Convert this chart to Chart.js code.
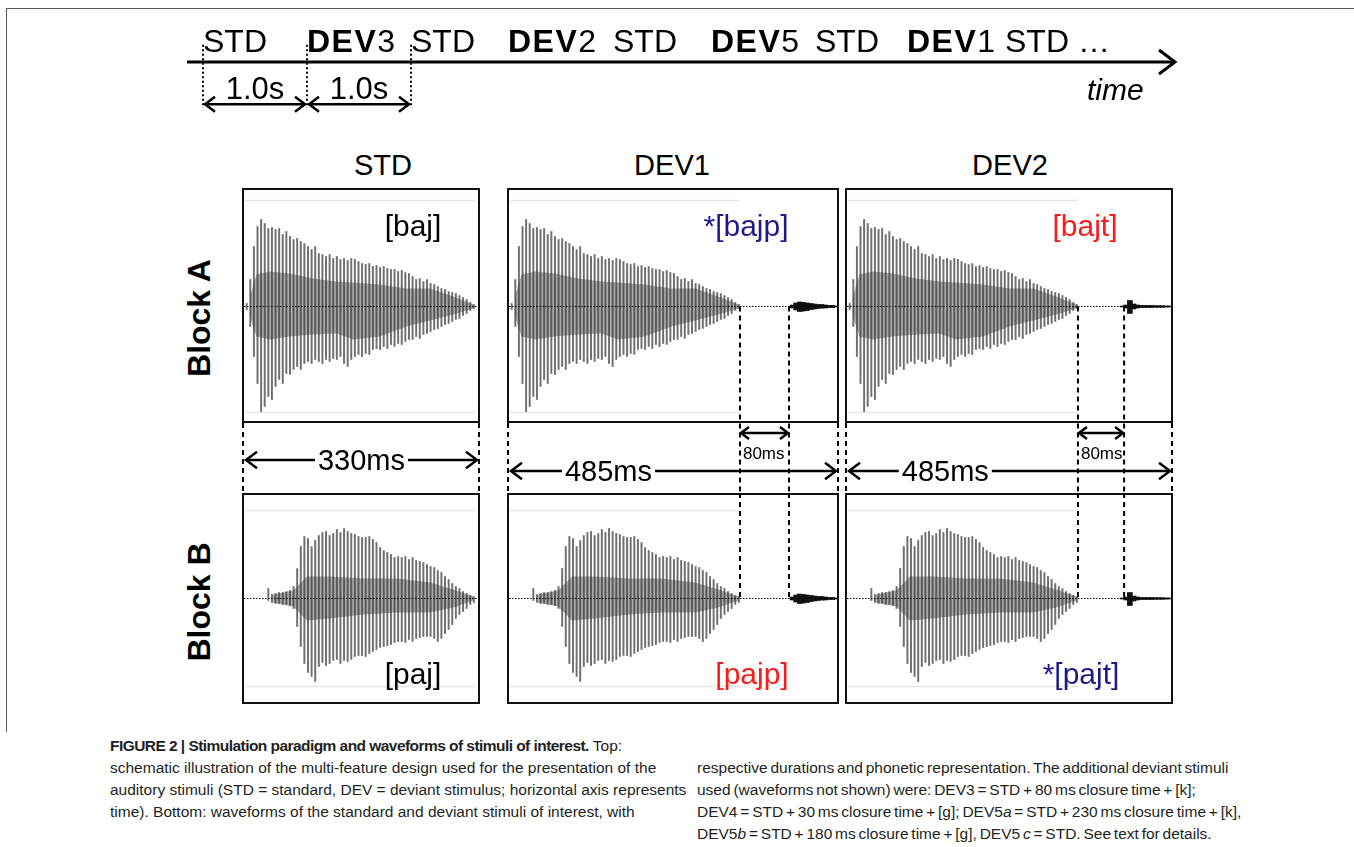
<!DOCTYPE html>
<html lang="en">
<head>
  <meta charset="UTF-8">
  <title>Stimulation paradigm and stimulus waveforms</title>
  <script src="https://cdn.jsdelivr.net/npm/chart.js"></script>
  <style>
    body {
      margin: 0;
      background: #fff;
      font-family: Arial, "Liberation Sans", sans-serif;
      color: #000;
    }
    #page { position: relative; width: 1354px; height: 847px; overflow: hidden; }
    #page canvas { position: absolute; }
    .frame-top { position: absolute; left: 6px; top: 8px; width: 1348px; border-top: 1.5px solid #5a5a5a; }
    .frame-left { position: absolute; left: 6px; top: 8px; height: 724px; border-left: 1.5px solid #5a5a5a; }
    .t { position: absolute; white-space: pre; line-height: 1; }
    .seq b { letter-spacing: 1.5px; }
    .cap { font-family: "Liberation Sans Narrow", "Arial Narrow", Arial, sans-serif; color: #231f20; }
    .cap b { letter-spacing: -0.55px; }
  </style>
</head>
<body>
<div id="page">
  <div class="frame-top"></div>
  <div class="frame-left"></div>
  <canvas id="timeline"></canvas>
  <canvas id="aStd"></canvas><canvas id="aDev1"></canvas><canvas id="aDev2"></canvas>
  <canvas id="bStd"></canvas><canvas id="bDev1"></canvas><canvas id="bDev2"></canvas>
</div>

<script>
  // ---------- data ----------
  const seqLabels = ['STD', 'DEV3', 'STD', 'DEV2', 'STD', 'DEV5', 'STD', 'DEV1', 'STD', '…'];
  const soaOnsets = [0, 1, 2];                 // s, onsets marked with dotted lines
  const soaLabel = '1.0s';
  const columnTitles = ['STD', 'DEV1', 'DEV2'];
  const blockLabels = ['Block A', 'Block B'];
  const phonA = ['[baj]', '*[bajp]', '[bajt]'];
  const phonB = ['[paj]', '[pajp]', '*[pajt]'];
  const durationLabels = ['330ms', '485ms', '485ms'];
  const closureLabel = '80ms';

  const binMs = 5;                             // one bar per 5 ms

  // [baj] waveform envelope (amplitude above / below zero)
  const bajStart = 6.5;
  const bajUp = [3, 27, 60, 80, 87, 83, 78, 79, 77, 78, 72, 75, 70, 67, 68, 65, 63, 60, 57, 60,
                 53, 52, 50, 52, 48, 50, 47, 48, 46, 48, 47, 45, 43, 42, 43, 40, 41, 39, 40, 38,
                 37, 37, 35, 36, 34, 33, 30, 27, 28, 25, 27, 23, 22, 20, 18, 17, 15, 14, 13, 11,
                 9, 7, 4, 2];
  const bajLo = [3, 20, 50, 77, 105, 100, 90, 93, 80, 73, 77, 67, 68, 63, 60, 63, 57, 55, 57, 53,
                 55, 57, 53, 55, 52, 53, 50, 57, 60, 53, 50, 48, 50, 47, 48, 43, 42, 43, 40, 42,
                 38, 40, 37, 38, 35, 33, 33, 30, 32, 28, 27, 25, 23, 22, 20, 18, 17, 15, 13, 12,
                 9, 7, 4, 2];
  // dense (dark) core of [baj]
  const bajCoreT  = [11, 20, 39, 66, 99, 131, 154, 191, 228, 261, 293, 321];
  const bajCoreUp = [10, 32, 35, 33, 28, 25, 24, 22, 18, 18, 10, 2];
  const bajCoreLo = [10, 30, 33, 30, 28, 27, 33, 30, 20, 14, 8, 2];

  // [paj] waveform envelope
  const pajStart = 36.5;
  const pajUp = [10, 4, 5, 6, 6, 7, 8, 12, 30, 52, 62, 60, 52, 58, 63, 66, 67, 63, 65, 69,
                 66, 70, 67, 65, 64, 62, 61, 61, 62, 59, 56, 51, 48, 46, 44, 41, 42, 41, 42, 39,
                 41, 38, 37, 36, 34, 32, 31, 28, 26, 22, 19, 15, 12, 10, 7, 5, 3, 2];
  const pajLo = [2, 4, 5, 5, 6, 6, 7, 10, 28, 48, 65, 74, 78, 83, 68, 64, 67, 65, 62, 61,
                 65, 62, 63, 61, 58, 57, 57, 58, 55, 53, 51, 49, 48, 47, 46, 44, 43, 43, 44, 41,
                 43, 40, 39, 38, 38, 38, 40, 43, 40, 35, 31, 26, 20, 16, 13, 10, 6, 4];
  const pajCoreT  = [43, 71, 90, 122, 168, 214, 261, 293, 321];
  const pajCoreUp = [4, 8, 22, 22, 20, 20, 16, 9, 2];
  const pajCoreLo = [4, 8, 22, 20, 16, 14, 14, 9, 2];

  // release bursts after the closure
  const burstPStart = 396;
  const burstPUp = [1.5, 3.5, 4.5, 4, 3.5, 3, 2.5, 2, 2, 1.5, 1, 1, 0.5];
  const burstPLo = [1.5, 3.5, 5, 4.5, 4, 3, 2.5, 2, 1.5, 1.5, 1, 1, 0.5];
  const burstTStart = 385;
  const burstTUp = [0.5, 1.5, 6, 2.5, 1.5, 1, 1, 1, 1, 0.8, 0.8, 0.8, 0.6, 0.5];
  const burstTLo = [0.5, 1.5, 7, 2.5, 1.5, 1, 1, 1, 1, 0.8, 0.8, 0.8, 0.6, 0.5];

  // closure interval (vowel offset, burst onset), ms
  const vowelOffsetMs = [null, 323, 323];
  const burstOnsetMs  = [null, 391, 387];

  // ---------- layout ----------
  const pxPerMs = 238 / 330;
  const cols = [{ left: 242, w: 238 }, { left: 507, w: 332 }, { left: 845, w: 328 }];
  const rowA = { top: 188, h: 235, gap: 70, yMin: -116.5, yMax: 118.5, faint: 106 };
  const rowB = { top: 493, h: 211, gap: 0, yMin: -105.5, yMax: 105.5, faint: 88 };
  const durFrac = [0.5, 0.3, 0.3];
  const phonColA = ['#000', '#1f1a8c', '#ff1a1a'];
  const phonColB = ['#000', '#ff1a1a', '#1f1a8c'];
  const page = document.getElementById('page');

  function addText(html, x, baseline, size, opt = {}) {
    const el = document.createElement('div');
    el.className = 't' + (opt.cls ? ' ' + opt.cls : '');
    el.innerHTML = html;
    el.style.fontSize = size + 'px';
    el.style.left = x + 'px';
    el.style.top = (baseline - 0.8465 * size) + 'px';
    if (opt.bold) el.style.fontWeight = 'bold';
    if (opt.italic) el.style.fontStyle = 'italic';
    if (opt.color) el.style.color = opt.color;
    if (opt.center) el.style.transform = 'translateX(-50%)';
    page.appendChild(el);
    return el;
  }

  function seg(ctx, x1, y1, x2, y2) {
    ctx.beginPath(); ctx.moveTo(x1, y1); ctx.lineTo(x2, y2); ctx.stroke();
  }
  function head(ctx, x, y, dir, s) {
    ctx.beginPath();
    ctx.moveTo(x - dir * s, y - s * 0.75);
    ctx.lineTo(x, y);
    ctx.lineTo(x - dir * s, y + s * 0.75);
    ctx.stroke();
  }
  function dimArrow(ctx, x1, x2, y, label, frac, size) {
    ctx.font = size + 'px Arial';
    const w = ctx.measureText(label).width;
    const cx = x1 + (x2 - x1) * frac;
    ctx.lineWidth = 2.5;
    seg(ctx, x1, y, cx - w / 2 - 3, y);
    seg(ctx, cx + w / 2 + 3, y, x2, y);
    head(ctx, x1, y, -1, 11);
    head(ctx, x2, y, 1, 11);
    ctx.fillText(label, cx - w / 2, y + 0.36 * size);
  }

  // ---------- top schematic ----------
  (function () {
    const cv = document.getElementById('timeline');
    cv.width = 1010; cv.height = 130;
    cv.style.left = '180px'; cv.style.top = '0px';
    const xMin = -0.154, xMax = 9.346;
    const deco = {
      id: 'timelineDeco',
      afterDatasetsDraw(chart) {
        const { ctx, chartArea: a, scales: { x, y } } = chart;
        const y0 = y.getPixelForValue(0);
        ctx.save();
        ctx.strokeStyle = '#000'; ctx.fillStyle = '#000';
        ctx.lineWidth = 3; ctx.lineJoin = 'miter';
        head(ctx, a.right, y0, 1, 16);
        // dotted onset markers
        ctx.lineWidth = 2; ctx.setLineDash([2, 2.5]);
        soaOnsets.forEach(t => {
          const px = x.getPixelForValue(t);
          seg(ctx, px, y.getPixelForValue(0.36), px, y.getPixelForValue(-0.96));
        });
        ctx.setLineDash([]);
        // SOA arrows
        const ya = y.getPixelForValue(-0.88);
        ctx.font = '31px Arial'; ctx.textAlign = 'center';
        for (let i = 1; i < soaOnsets.length; i++) {
          const p1 = x.getPixelForValue(soaOnsets[i - 1]) + 2;
          const p2 = x.getPixelForValue(soaOnsets[i]) - 2;
          ctx.lineWidth = 2.5;
          seg(ctx, p1, ya, p2, ya);
          head(ctx, p1, ya, -1, 10); head(ctx, p2, ya, 1, 10);
          ctx.fillText(soaLabel, (p1 + p2) / 2, y.getPixelForValue(-0.78));
        }
        ctx.restore();
      }
    };
    new Chart(cv, {
      type: 'line',
      data: {
        datasets: [{
          data: [{ x: xMin, y: 0 }, { x: xMax, y: 0 }],
          borderColor: '#000', borderWidth: 3, pointRadius: 0
        }]
      },
      options: {
        responsive: false, animation: false, events: [],
        layout: { padding: { left: 7, right: 15, top: 14, bottom: 20 } },
        scales: {
          x: { type: 'linear', min: xMin, max: xMax, display: false },
          y: { min: -1, max: 1, display: false }
        },
        plugins: { legend: { display: false }, tooltip: { enabled: false } }
      },
      plugins: [deco]
    });
  })();

  // sequence labels (text run as in the original schematic)
  const seqLeft = [203, 307, 411, 508, 613, 711, 815, 907, 1005, 1078];
  seqLabels.forEach((s, i) => {
    const m = s.match(/^DEV(\d)$/);
    const html = m ? '<b>DEV</b>' + m[1] : s;
    addText(html, seqLeft[i], 52, 32, { cls: 'seq' });
  });
  addText('time', 1087, 100, 30, { italic: true });

  // ---------- waveform panels ----------
  function bars(start, up, lo) {
    return up.map((u, i) => ({ x: start + i * binMs, y: [-lo[i], u] }));
  }
  function pts(t, v, sign) {
    return t.map((tt, i) => ({ x: tt, y: sign * v[i] }));
  }

  function panel(id, col, row, wave, burst, c) {
    const cv = document.getElementById(id);
    cv.width = col.w; cv.height = row.h + row.gap;
    cv.style.left = col.left + 'px'; cv.style.top = row.top + 'px';
    const xMax = col.w / pxPerMs;
    const hasClosure = vowelOffsetMs[c] !== null;

    const datasets = [
      { type: 'line', data: pts(wave.coreT, wave.coreUp, 1), fill: '+1',
        backgroundColor: 'rgba(35,35,35,0.38)', borderWidth: 0, pointRadius: 0, order: 3 },
      { type: 'line', data: pts(wave.coreT, wave.coreLo, -1), fill: false,
        borderWidth: 0, pointRadius: 0, order: 3 },
      { type: 'bar', data: bars(wave.start, wave.up, wave.lo), backgroundColor: 'rgba(55,55,55,0.72)',
        barThickness: 1.3, grouped: false, order: 1 }
    ];
    if (burst) {
      datasets.push({ type: 'bar', data: bars(burst.start, burst.up, burst.lo), backgroundColor: '#111',
        barThickness: 5, grouped: false, order: 1 });
    }

    const deco = {
      id: 'panelDeco',
      beforeDatasetsDraw(chart) {
        const { ctx, scales: { x, y } } = chart;
        ctx.save();
        ctx.strokeStyle = '#e6e6e6'; ctx.lineWidth = 1.5;
        [row.faint, -row.faint].forEach(v => {
          seg(ctx, x.getPixelForValue(4), y.getPixelForValue(v), x.getPixelForValue(323), y.getPixelForValue(v));
        });
        ctx.restore();
      },
      afterDatasetsDraw(chart) {
        const { ctx, chartArea: a, scales: { x, y } } = chart;
        const y0 = y.getPixelForValue(0);
        ctx.save();
        ctx.strokeStyle = '#000'; ctx.fillStyle = '#000';
        // zero line
        ctx.lineWidth = 1.2; ctx.setLineDash([1.5, 1.5]);
        seg(ctx, a.left + 2, y0, a.right - 2, y0);
        // box
        ctx.setLineDash([]); ctx.lineWidth = 2; ctx.strokeStyle = '#111';
        ctx.strokeRect(a.left + 1, a.top + 1, a.width - 2, a.height - 2);
        ctx.strokeStyle = '#000';
        ctx.lineWidth = 2; ctx.setLineDash([5, 4]);
        if (row.gap) {
          const ye = chart.height;
          seg(ctx, a.left + 1, a.bottom, a.left + 1, ye);
          seg(ctx, a.right - 1, a.bottom, a.right - 1, ye);
          if (hasClosure) {
            [vowelOffsetMs[c], burstOnsetMs[c]].forEach(ms => {
              const px = x.getPixelForValue(ms);
              seg(ctx, px, y0, px, ye);
            });
          }
          ctx.setLineDash([]);
          dimArrow(ctx, a.left + 4, a.right - 3, a.bottom + (c === 0 ? 37 : 48), durationLabels[c], durFrac[c], 29);
          if (hasClosure) {
            const p1 = x.getPixelForValue(vowelOffsetMs[c]) + 1;
            const p2 = x.getPixelForValue(burstOnsetMs[c]) - 1;
            const ya = a.bottom + 10;
            ctx.lineWidth = 2.5;
            seg(ctx, p1, ya, p2, ya);
            head(ctx, p1, ya, -1, 8); head(ctx, p2, ya, 1, 8);
            ctx.font = '17px Arial';
            ctx.fillText(closureLabel, p1 + 2, a.bottom + 36);
          }
        } else if (hasClosure) {
          [vowelOffsetMs[c], burstOnsetMs[c]].forEach(ms => {
            const px = x.getPixelForValue(ms);
            seg(ctx, px, a.top, px, y0);
          });
        }
        ctx.restore();
      }
    };

    new Chart(cv, {
      type: 'bar',
      data: { datasets },
      options: {
        responsive: false, animation: false, events: [],
        layout: { padding: { left: 0, right: 0, top: 0, bottom: row.gap } },
        scales: {
          x: { type: 'linear', min: 0, max: xMax, offset: false, display: false },
          y: { type: 'linear', min: row.yMin, max: row.yMax, display: false }
        },
        elements: { line: { tension: 0 }, bar: { borderWidth: 0 } },
        plugins: { legend: { display: false }, tooltip: { enabled: false } }
      },
      plugins: [deco]
    });
  }

  const baj = { start: bajStart, up: bajUp, lo: bajLo, coreT: bajCoreT, coreUp: bajCoreUp, coreLo: bajCoreLo };
  const paj = { start: pajStart, up: pajUp, lo: pajLo, coreT: pajCoreT, coreUp: pajCoreUp, coreLo: pajCoreLo };
  const burstP = { start: burstPStart, up: burstPUp, lo: burstPLo };
  const burstT = { start: burstTStart, up: burstTUp, lo: burstTLo };

  panel('aStd', cols[0], rowA, baj, null, 0);
  panel('aDev1', cols[1], rowA, baj, burstP, 1);
  panel('aDev2', cols[2], rowA, baj, burstT, 2);
  panel('bStd', cols[0], rowB, paj, null, 0);
  panel('bDev1', cols[1], rowB, paj, burstP, 1);
  panel('bDev2', cols[2], rowB, paj, burstT, 2);

  // titles, block labels, phonetic labels
  const titleX = [383, 672, 1010];
  columnTitles.forEach((s, i) => addText(s, titleX[i], 176, 29, { center: true }));
  const phonAX = [413, 746, 1085], phonBX = [413, 752, 1081];
  phonA.forEach((s, i) => addText(s, phonAX[i], 236, 30, { center: true, color: phonColA[i] }));
  phonB.forEach((s, i) => addText(s, phonBX[i], 684, 30, { center: true, color: phonColB[i] }));
  [318, 602].forEach((cy, i) => {
    const el = addText(blockLabels[i], 199, cy, 32, { bold: true });
    el.style.top = (cy - 16) + 'px';
    el.style.transform = 'translate(-50%, 0) rotate(-90deg)';
  });

  // ---------- caption ----------
  const capLeft = [
    '<b>FIGURE 2 | Stimulation paradigm and waveforms of stimuli of interest.</b> Top:',
    'schematic illustration of the multi-feature design used for the presentation of the',
    'auditory stimuli (STD = standard, DEV = deviant stimulus; horizontal axis represents',
    'time). Bottom: waveforms of the standard and deviant stimuli of interest, with'
  ];
  const capRight = [
    'respective durations and phonetic representation. The additional deviant stimuli',
    'used (waveforms not shown) were: DEV3 = STD + 80 ms closure time + [k];',
    'DEV4 = STD + 30 ms closure time + [g]; DEV5<i>a</i> = STD + 230 ms closure time + [k],',
    'DEV5<i>b</i> = STD + 180 ms closure time + [g], DEV5 <i>c</i> = STD. See text for details.'
  ];
  capLeft.forEach((s, i) => addText(s, 110, 751 + i * 22, 15.5, { cls: 'cap' }));
  capRight.forEach((s, i) => {
    const el = addText(s, 697, 773 + i * 22, 15.5, { cls: 'cap' });
    el.style.wordSpacing = '-1.5px';
  });
</script>
</body>
</html>
